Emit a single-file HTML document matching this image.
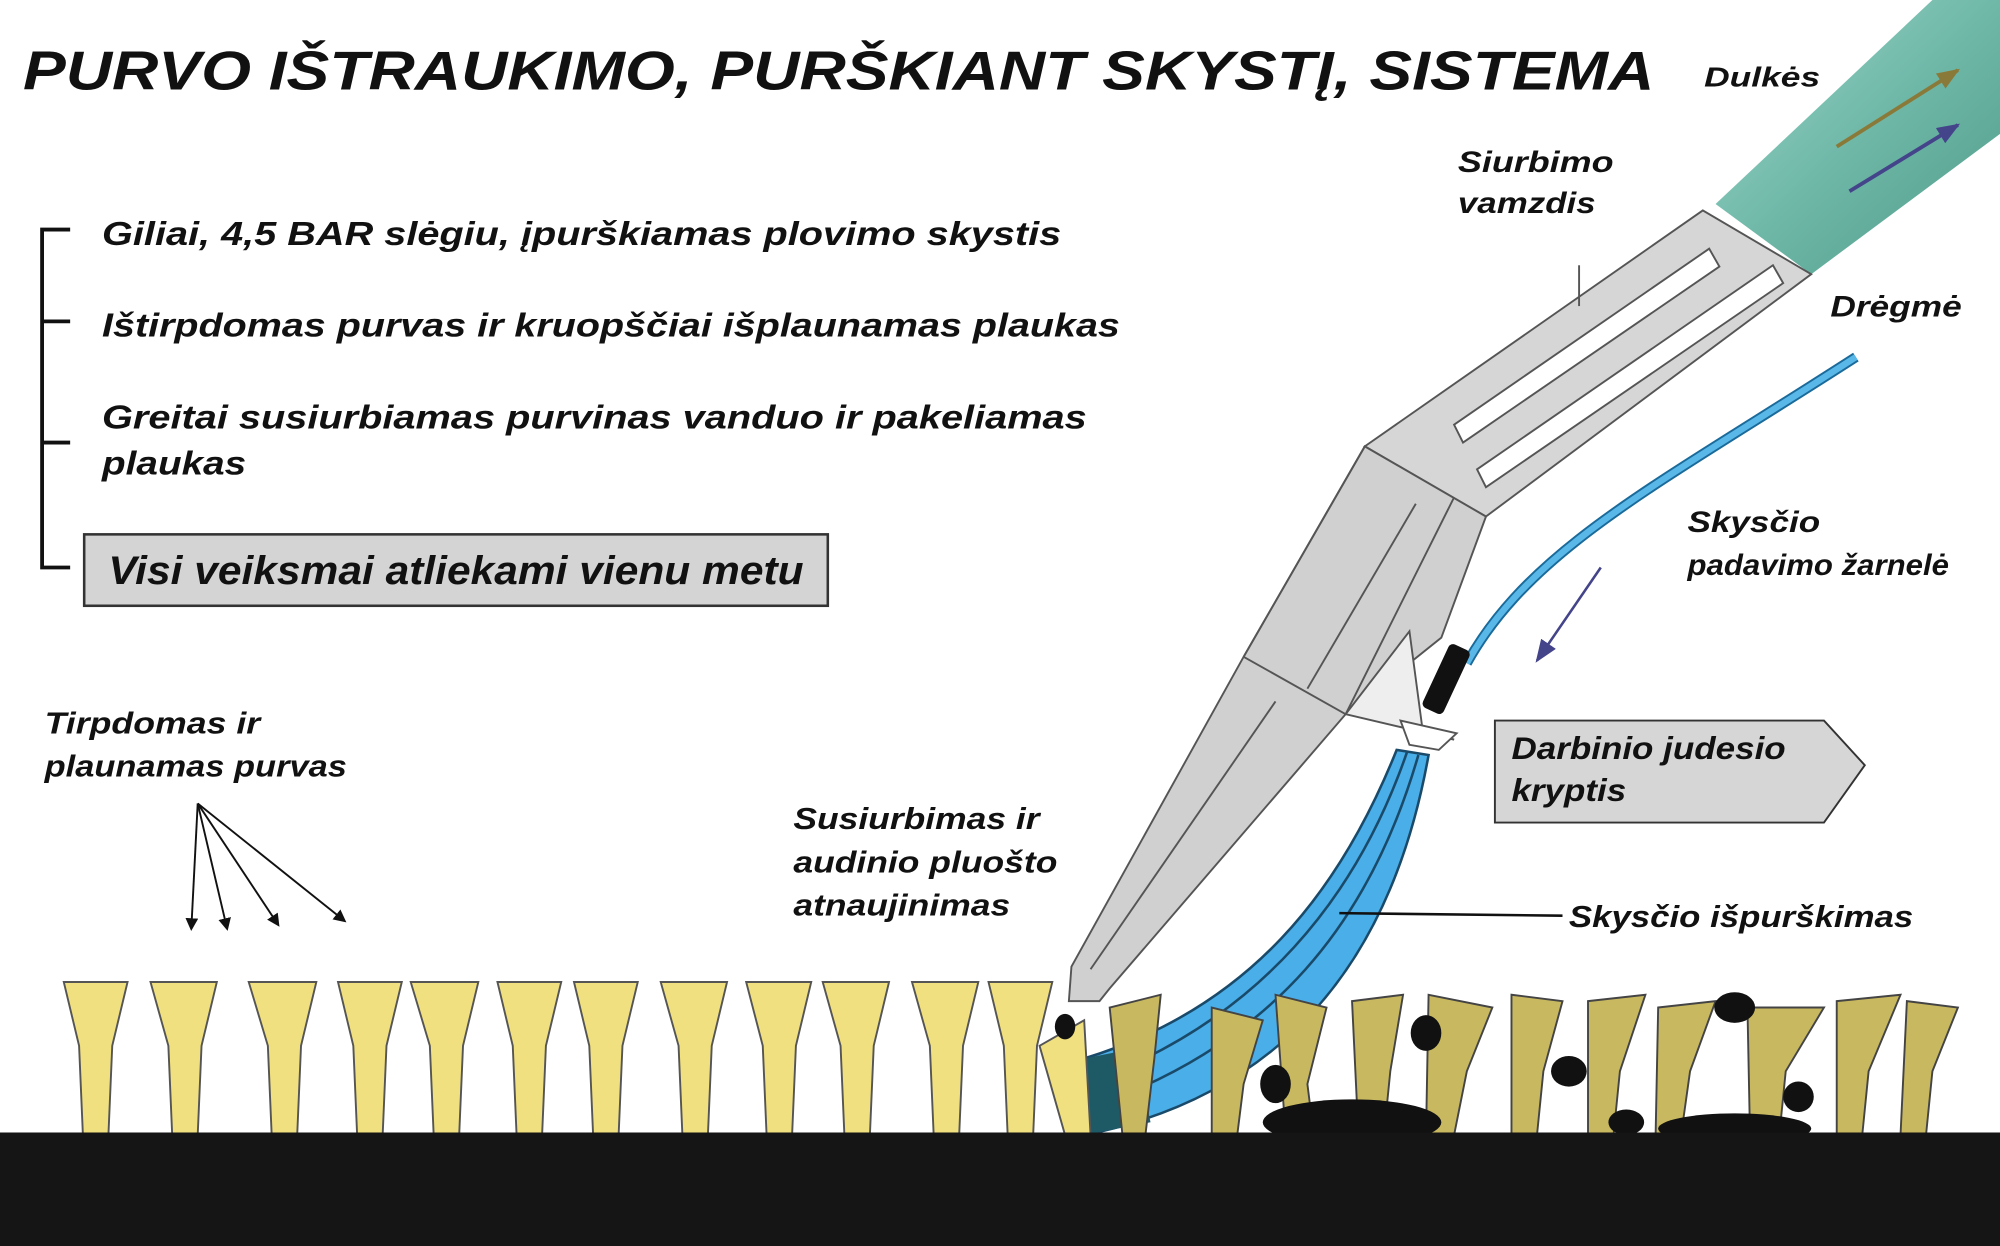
<!DOCTYPE html>
<html><head><meta charset="utf-8"><style>
html,body{margin:0;padding:0;background:#fff;}
svg{display:block;}
text{font-family:"Liberation Sans",sans-serif;font-style:italic;font-weight:bold;fill:#111;}
</style></head><body>
<svg width="2000" height="1246" viewBox="0 0 1568 977" preserveAspectRatio="none" xmlns="http://www.w3.org/2000/svg">
<defs>
<linearGradient id="tube" x1="0" y1="0" x2="1" y2="1">
<stop offset="0" stop-color="#9fd8cc"/><stop offset="0.5" stop-color="#6fb8a8"/><stop offset="1" stop-color="#4f9a8a"/>
</linearGradient>
<marker id="ah" markerWidth="10" markerHeight="10" refX="8" refY="5" orient="auto" markerUnits="userSpaceOnUse"><path d="M0,0 L10,5 L0,10 z" fill="#111"/></marker>
<marker id="ap" markerWidth="18" markerHeight="14" refX="16" refY="7" orient="auto" markerUnits="userSpaceOnUse"><path d="M0,0 L18,7 L0,14 z" fill="#44448a"/></marker>
<marker id="ab" markerWidth="18" markerHeight="14" refX="16" refY="7" orient="auto" markerUnits="userSpaceOnUse"><path d="M0,0 L18,7 L0,14 z" fill="#8a7a3a"/></marker>
</defs>
<rect width="1568" height="977" fill="#fff"/>
<text x="18" y="70" font-size="43" textLength="1279" lengthAdjust="spacingAndGlyphs">PURVO IŠTRAUKIMO, PURŠKIANT SKYSTĮ, SISTEMA</text>
<text x="1336" y="68" font-size="22" textLength="91" lengthAdjust="spacingAndGlyphs">Dulkės</text>
<g stroke="#111" stroke-width="3" fill="none">
<path d="M55,180 H33 V445 H55"/><path d="M33,252 H55"/><path d="M33,347 H55"/>
</g>
<text x="80" y="192" font-size="26" textLength="752" lengthAdjust="spacingAndGlyphs">Giliai, 4,5 BAR slėgiu, įpurškiamas plovimo skystis</text>
<text x="80" y="264" font-size="26" textLength="798" lengthAdjust="spacingAndGlyphs">Ištirpdomas purvas ir kruopščiai išplaunamas plaukas</text>
<text x="80" y="336" font-size="26" textLength="772" lengthAdjust="spacingAndGlyphs">Greitai susiurbiamas purvinas vanduo ir pakeliamas</text>
<text x="80" y="372" font-size="26" textLength="113" lengthAdjust="spacingAndGlyphs">plaukas</text>
<rect x="66" y="419" width="583" height="56" fill="#d4d4d4" stroke="#333" stroke-width="2"/>
<text x="85" y="458" font-size="31" font-weight="normal" textLength="545" lengthAdjust="spacingAndGlyphs">Visi veiksmai atliekami vienu metu</text>
<polygon points="1345,160 1515,0 1568,0 1568,105 1420,215" fill="url(#tube)"/>
<line x1="1440" y1="115" x2="1535" y2="55" stroke="#8a7a3a" stroke-width="3" marker-end="url(#ab)"/>
<line x1="1450" y1="150" x2="1535" y2="98" stroke="#44448a" stroke-width="3" marker-end="url(#ap)"/>
<g stroke="#555" stroke-width="1.5">
<polygon points="1070,350 1335,165 1420,215 1165,405" fill="#d6d6d6"/>
<polygon points="1070,350 1165,405 1130,500 1055,560 870,775 862,785 838,785 840,758 975,515" fill="#d0d0d0"/>
<polygon points="1158,368 1390,208 1398,222 1165,382" fill="#fff"/>
<polygon points="1140,333 1340,195 1348,209 1147,347" fill="#fff"/>
<line x1="1070" y1="350" x2="975" y2="515"/>
<line x1="1140" y1="390" x2="1055" y2="560"/>
<line x1="975" y1="515" x2="1055" y2="560"/>
<line x1="1000" y1="550" x2="855" y2="760"/>
<line x1="1110" y1="395" x2="1025" y2="540"/>
<line x1="1238" y1="208" x2="1238" y2="240"/>
<polygon points="1105,495 1055,560 1140,580 1115,570" fill="#eee"/>
<polygon points="1098,565 1142,575 1128,588 1105,584" fill="#fff"/>
</g>
<path d="M1455,280 C1300,380 1200,430 1150,520" stroke="#1a6a9a" stroke-width="8" fill="none"/>
<path d="M1455,280 C1300,380 1200,430 1150,520" stroke="#5ab8e8" stroke-width="5" fill="none"/>
<rect x="1125" y="505" width="18" height="55" rx="4" transform="rotate(25 1134 532)" fill="#111"/>
<line x1="1255" y1="445" x2="1205" y2="518" stroke="#44448a" stroke-width="2" marker-end="url(#ap)"/>
<path d="M1095,588 C1050,700 980,790 850,830 L850,890 C1000,860 1090,760 1120,592 Z" fill="#4aaee8" stroke="#1a4a6a" stroke-width="2"/>
<path d="M1103,590 C1065,700 990,800 850,850" stroke="#1a4a6a" stroke-width="2" fill="none"/>
<path d="M1112,592 C1075,720 1000,820 850,870" stroke="#1a4a6a" stroke-width="2" fill="none"/>
<polygon points="850,830 890,822 902,880 850,890" fill="#1e5a66"/>
<line x1="1050" y1="716" x2="1225" y2="718" stroke="#111" stroke-width="2"/>
<text x="1143" y="135" font-size="23" font-weight="normal" textLength="122" lengthAdjust="spacingAndGlyphs">Siurbimo</text>
<text x="1143" y="167" font-size="23" font-weight="normal" textLength="108" lengthAdjust="spacingAndGlyphs">vamzdis</text>
<text x="1435" y="248" font-size="23" textLength="103" lengthAdjust="spacingAndGlyphs">Drėgmė</text>
<text x="1323" y="417" font-size="23" textLength="104" lengthAdjust="spacingAndGlyphs">Skysčio</text>
<text x="1323" y="451" font-size="23" textLength="205" lengthAdjust="spacingAndGlyphs">padavimo žarnelė</text>
<polygon points="1172,565 1430,565 1462,600 1430,645 1172,645" fill="#d6d6d6" stroke="#333" stroke-width="1.5"/>
<text x="1185" y="595" font-size="25" textLength="215" lengthAdjust="spacingAndGlyphs">Darbinio judesio</text>
<text x="1185" y="628" font-size="25" textLength="90" lengthAdjust="spacingAndGlyphs">kryptis</text>
<text x="622" y="650" font-size="24" font-weight="normal" textLength="193" lengthAdjust="spacingAndGlyphs">Susiurbimas ir</text>
<text x="622" y="684" font-size="24" font-weight="normal" textLength="207" lengthAdjust="spacingAndGlyphs">audinio pluošto</text>
<text x="622" y="718" font-size="24" font-weight="normal" textLength="170" lengthAdjust="spacingAndGlyphs">atnaujinimas</text>
<text x="1230" y="727" font-size="24" font-weight="normal" textLength="270" lengthAdjust="spacingAndGlyphs">Skysčio išpurškimas</text>
<text x="35" y="575" font-size="24" font-weight="normal" textLength="169" lengthAdjust="spacingAndGlyphs">Tirpdomas ir</text>
<text x="35" y="609" font-size="24" font-weight="normal" textLength="237" lengthAdjust="spacingAndGlyphs">plaunamas purvas</text>
<g stroke="#111" stroke-width="1.5" fill="none">
<line x1="155" y1="630" x2="150" y2="728" marker-end="url(#ah)"/>
<line x1="155" y1="630" x2="178" y2="728" marker-end="url(#ah)"/>
<line x1="155" y1="630" x2="218" y2="725" marker-end="url(#ah)"/>
<line x1="155" y1="630" x2="270" y2="722" marker-end="url(#ah)"/>
</g>
<g fill="#f0e080" stroke="#555" stroke-width="1.5">
<path d="M50,770 L100,770 L88,820 L85,890 L65,890 L62,820 Z"/>
<path d="M118,770 L170,770 L158,820 L155,890 L135,890 L132,820 Z"/>
<path d="M195,770 L248,770 L236,820 L233,890 L213,890 L210,820 Z"/>
<path d="M265,770 L315,770 L303,820 L300,890 L280,890 L277,820 Z"/>
<path d="M322,770 L375,770 L363,820 L360,890 L340,890 L337,820 Z"/>
<path d="M390,770 L440,770 L428,820 L425,890 L405,890 L402,820 Z"/>
<path d="M450,770 L500,770 L488,820 L485,890 L465,890 L462,820 Z"/>
<path d="M518,770 L570,770 L558,820 L555,890 L535,890 L532,820 Z"/>
<path d="M585,770 L636,770 L624,820 L621,890 L601,890 L598,820 Z"/>
<path d="M645,770 L697,770 L685,820 L682,890 L662,890 L659,820 Z"/>
<path d="M715,770 L767,770 L755,820 L752,890 L732,890 L729,820 Z"/>
<path d="M775,770 L825,770 L813,820 L810,890 L790,890 L787,820 Z"/>
<path d="M815,820 L850,800 L855,890 L835,890 Z"/>
</g>
<g fill="#c8b860" stroke="#444" stroke-width="1.5">
<path d="M870,790 L910,780 L905,830 L898,890 L880,890 Z"/>
<path d="M950,790 L990,800 L975,850 L970,890 L950,890 Z"/>
<path d="M1000,780 L1040,790 L1025,850 L1030,890 L1008,890 Z"/>
<path d="M1060,785 L1100,780 L1090,840 L1085,890 L1065,890 Z"/>
<path d="M1120,780 L1170,790 L1150,840 L1140,890 L1118,890 Z"/>
<path d="M1185,780 L1225,785 L1210,840 L1205,890 L1185,890 Z"/>
<path d="M1245,785 L1290,780 L1270,840 L1265,890 L1245,890 Z"/>
<path d="M1300,790 L1345,785 L1325,840 L1318,890 L1298,890 Z"/>
<path d="M1370,790 L1430,790 L1400,840 L1395,890 L1372,890 Z"/>
<path d="M1440,785 L1490,780 L1465,840 L1460,890 L1440,890 Z"/>
<path d="M1495,785 L1535,790 L1515,840 L1510,890 L1490,890 Z"/>
</g>
<g fill="#111">
<ellipse cx="1000" cy="850" rx="12" ry="15"/><ellipse cx="1118" cy="810" rx="12" ry="14"/>
<ellipse cx="1230" cy="840" rx="14" ry="12"/><ellipse cx="1275" cy="880" rx="14" ry="10"/>
<ellipse cx="1360" cy="790" rx="16" ry="12"/><ellipse cx="1410" cy="860" rx="12" ry="12"/>
<ellipse cx="1060" cy="880" rx="70" ry="18"/><ellipse cx="1360" cy="885" rx="60" ry="12"/>
<ellipse cx="835" cy="805" rx="8" ry="10"/>
</g>
<rect x="0" y="888" width="1568" height="89" fill="#151515"/>
</svg>
</body></html>
